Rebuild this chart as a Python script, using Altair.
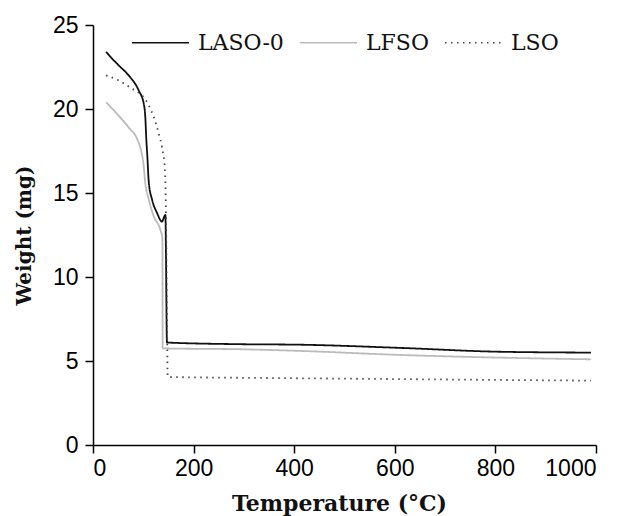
import altair as alt
import pandas as pd

series_names = ["LASO-0", "LFSO", "LSO"]

laso_temp = [26, 38, 51, 71, 91, 101, 104, 106, 108, 111, 117.5, 127.5, 137, 144, 145, 147, 293, 412, 611, 809, 990]
laso_weight = [23.4, 23.0, 22.6, 22.0, 21.1, 20.3, 19.5, 18.2, 17.2, 15.6, 14.6, 13.8, 13.3, 13.7, 11.5, 6.1, 6.0, 5.97, 5.78, 5.55, 5.5]

lfso_temp = [26, 45, 71, 88, 95, 100, 104, 111, 121, 134, 138, 138.5, 293, 412, 611, 809, 990]
lfso_weight = [20.4, 19.8, 18.9, 18.2, 17.6, 16.8, 15.6, 14.6, 13.6, 12.8, 12.3, 5.75, 5.7, 5.6, 5.36, 5.2, 5.1]

lso_temp = [26, 51, 78, 98, 111, 121, 131, 137, 143, 145, 147, 148.5, 300, 500, 700, 990]
lso_weight = [22.0, 21.7, 21.2, 20.8, 20.2, 19.5, 18.5, 17.75, 16.4, 13.8, 8.0, 4.05, 4.0, 3.95, 3.9, 3.83]

x_ticks = [0, 200, 400, 600, 800, 1000]
y_ticks = [0, 5, 10, 15, 20, 25]

rows = []
for name, ts, ws in zip(series_names, [laso_temp, lfso_temp, lso_temp], [laso_weight, lfso_weight, lso_weight]):
    for i, (t, w) in enumerate(zip(ts, ws)):
        rows.append({"series": name, "temp": t, "weight": w, "order": i})
df = pd.DataFrame(rows)

chart = alt.Chart(df).mark_line(strokeWidth=1.8, interpolate="monotone").encode(
    x=alt.X("temp:Q", scale=alt.Scale(domain=[0, 1000], nice=False),
            axis=alt.Axis(values=x_ticks, format="d", title="Temperature (°C)",
                          titlePadding=13, titleX=246)),
    y=alt.Y("weight:Q", scale=alt.Scale(domain=[0, 25], nice=False),
            axis=alt.Axis(values=y_ticks, format="d", title="Weight (mg)", titlePadding=18,
                          labelPadding=7)),
    order="order:Q",
    color=alt.Color("series:N", sort=series_names,
                    scale=alt.Scale(domain=series_names, range=["#111111", "#bbbbbb", "#444444"]),
                    legend=alt.Legend(title=None, orient="none", direction="horizontal",
                                      legendX=38, legendY=-12, symbolType="stroke",
                                      symbolSize=3249, symbolStrokeWidth=1.6,
                                      labelFont="DejaVu Serif", labelFontSize=22,
                                      labelColor="#111", labelOffset=8, columnPadding=12,
                                      padding=0)),
    strokeDash=alt.StrokeDash("series:N", sort=series_names,
                              scale=alt.Scale(domain=series_names, range=[[1, 0], [1, 0], [1.5, 4.5]]),
                              legend=None),
).properties(
    width=503, height=420,
    padding={"left": 93, "top": 25, "right": 28, "bottom": 71},
    autosize=alt.AutoSizeParams(type="none"),
).configure_view(stroke=None).configure_axis(
    grid=False,
    domainColor="#000", domainWidth=1.5,
    tickColor="#000", tickWidth=1.5, tickSize=8,
    labelFont="Liberation Sans", labelFontSize=23, labelColor="#000", labelPadding=4,
    titleFont="DejaVu Serif", titleFontWeight="bold", titleColor="#111",
).configure_axisX(titleFontSize=22).configure_axisY(titleFontSize=20)

chart.save("out.html", embed_options={"renderer": "svg", "actions": False})
